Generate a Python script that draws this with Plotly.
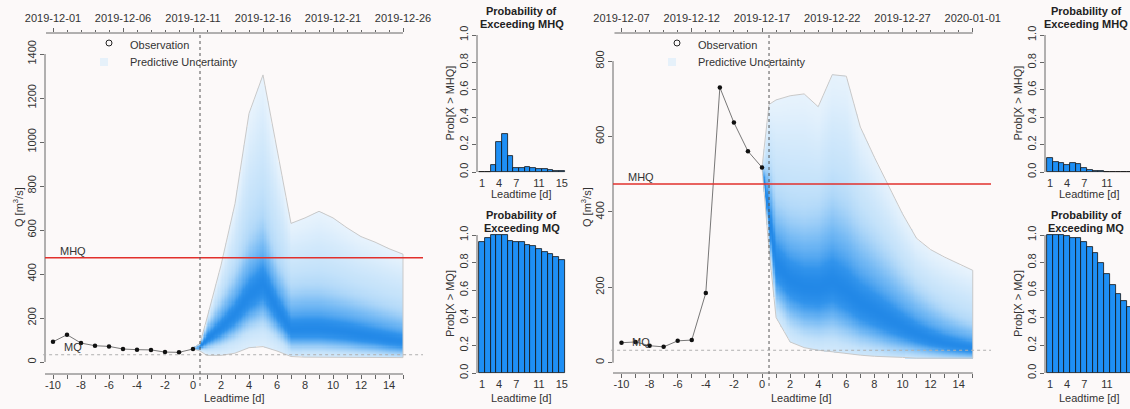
import numpy as np
import plotly.graph_objects as go

W, H = 1130, 409
BG = '#fcf9f9'
FONT = 'Liberation Sans, Arial, sans-serif'
TXT = '#333333'
AXC = '#666666'

# ---------------- data ----------------
MHQ = 474
MQ = 33
LEVELS = [0.0, 0.10, 0.25, 0.50, 0.75, 0.90, 1.0]

# left panel (forecast issued 2019-12-11)
L_obs_lt = [-10, -9, -8, -7, -6, -5, -4, -3, -2, -1, 0]
L_obs_q = [92, 124, 86, 74, 71, 59, 56, 55, 45, 44, 59]
L_fc_lt = [0, 0.5, 1, 2, 3, 4, 5, 6, 7, 8, 9, 10, 11, 12, 13, 14, 15]
L_lo = [60, 50, 30, 30, 40, 65, 70, 50, 25, 22, 22, 22, 22, 22, 21, 20, 20]
L_q10 = [60, 58, 65, 85, 120, 170, 200, 130, 70, 70, 70, 65, 60, 55, 50, 45, 40]
L_q25 = [60, 62, 80, 115, 160, 220, 260, 175, 100, 100, 100, 95, 90, 80, 75, 65, 60]
L_q50 = [60, 67, 100, 150, 210, 290, 350, 235, 140, 140, 140, 135, 125, 115, 105, 95, 85]
L_q75 = [60, 72, 130, 200, 280, 390, 460, 320, 210, 215, 215, 205, 195, 180, 165, 150, 135]
L_q90 = [60, 78, 170, 280, 400, 560, 650, 450, 330, 340, 340, 325, 305, 285, 265, 245, 225]
L_hi = [60, 85, 200, 440, 720, 1130, 1305, 960, 630, 655, 685, 655, 610, 570, 545, 515, 490]
L_dates = ['2019-12-01', '2019-12-06', '2019-12-11', '2019-12-16', '2019-12-21', '2019-12-26']
L_yticks = [0, 200, 400, 600, 800, 1000, 1200, 1400]
L_p_mhq = [0.003, 0.003, 0.05, 0.22, 0.28, 0.12, 0.03, 0.03, 0.035, 0.03, 0.025, 0.02, 0.015, 0.01, 0.01]
L_p_mq = [0.95, 0.98, 1.0, 1.0, 1.0, 0.96, 0.95, 0.95, 0.93, 0.92, 0.90, 0.88, 0.86, 0.84, 0.82]

# right panel (forecast issued 2019-12-17)
R_obs_lt = [-10, -9, -8, -7, -6, -5, -4, -3, -2, -1, 0]
R_obs_q = [53, 55, 45, 42, 58, 60, 185, 730, 637, 561, 518]
R_fc_lt = [0, 0.5, 1, 2, 3, 4, 5, 6, 7, 8, 9, 10, 11, 12, 13, 14, 15]
R_lo = [518, 300, 120, 55, 40, 33, 29, 25, 20, 17, 15, 14, 12, 12, 12, 12, 12]
R_q10 = [518, 330, 165, 110, 90, 85, 90, 78, 65, 55, 45, 38, 32, 27, 23, 20, 18]
R_q25 = [518, 355, 205, 160, 140, 135, 145, 125, 100, 85, 70, 58, 47, 38, 32, 28, 25]
R_q50 = [518, 390, 260, 215, 195, 190, 205, 180, 150, 130, 110, 90, 72, 58, 48, 40, 35]
R_q75 = [518, 440, 330, 290, 275, 275, 300, 275, 235, 205, 175, 145, 118, 98, 82, 70, 60]
R_q90 = [518, 520, 430, 400, 390, 400, 440, 410, 360, 320, 280, 235, 195, 165, 140, 120, 105]
R_hi = [518, 685, 697, 708, 713, 679, 764, 760, 625, 545, 470, 395, 330, 300, 280, 262, 245]
R_dates = ['2019-12-07', '2019-12-12', '2019-12-17', '2019-12-22', '2019-12-27', '2020-01-01']
R_yticks = [0, 200, 400, 600, 800]
R_p_mhq = [0.10, 0.07, 0.065, 0.05, 0.065, 0.06, 0.03, 0.015, 0.008, 0.005, 0.003, 0.003, 0.003, 0.003, 0.003]
R_p_mq = [1.0, 1.0, 1.0, 0.99, 0.98, 0.98, 0.95, 0.91, 0.87, 0.80, 0.72, 0.64, 0.57, 0.52, 0.48]

BAR_LT = list(range(1, 16))
BAR_TICKS = [1, 4, 7, 11, 15]
DATE_TICK_LT = [-10, -5, 0, 5, 10, 15]
LT_TICKS = list(range(-10, 16))
LT_LABELS = list(range(-10, 15, 2))
PROB_TICKS = [0, 0.2, 0.4, 0.6, 0.8, 1.0]

# ---------------- helpers ----------------
def px(x):
    return x / W

def py(y):
    return 1 - y / H

def aid(prefix, n):
    return prefix if n == 1 else '%s%d' % (prefix, n)

fig = go.Figure()
layout = dict(template='none', width=W, height=H, margin=dict(l=0, r=0, t=0, b=0, pad=0), paper_bgcolor=BG,
              plot_bgcolor='rgba(0,0,0,0)', showlegend=False, font=dict(family=FONT, size=11, color=TXT))
shapes = []
annots = []

def ann(x, y, text, size=11, angle=0, bold=False, xanchor='center', color=TXT):
    annots.append(dict(x=px(x), y=py(y), xref='paper', yref='paper', text=('<b>%s</b>' % text) if bold else text,
                       showarrow=False, font=dict(size=size, color=color, family=FONT), textangle=angle,
                       xanchor=xanchor, yanchor='middle'))

COLORSCALE = [[0.0, 'rgb(236,245,253)'], [0.2, 'rgb(196,226,250)'], [0.45, 'rgb(116,185,244)'],
              [0.7, 'rgb(50,148,236)'], [1.0, 'rgb(18,124,226)']]


def density(fc_lt, quants, ystep):
    xg = np.arange(0.05, 15.0, 0.1)
    yg = np.arange(ystep / 2, max(quants[-1]) + ystep, ystep)
    Q = np.array([np.interp(xg, fc_lt, q) for q in quants])
    Z = np.full((len(yg), len(xg)), np.nan)
    for j in range(len(xg)):
        qs = Q[:, j]
        p = np.interp(yg, qs, LEVELS)
        w = 1 - np.abs(2 * p - 1)
        inside = (yg >= qs[0]) & (yg <= qs[-1])
        zf = np.where(inside, w, 0.0)
        m = inside.astype(float)
        sig = max(0.10 * (qs[5] - qs[1]) / ystep, 1.0)
        half = int(3 * sig) + 1
        k = np.exp(-0.5 * (np.arange(-half, half + 1) / sig) ** 2)
        num = np.convolve(zf, k, mode='same')
        den = np.convolve(m, k, mode='same')
        zs = np.divide(num, den, out=np.zeros_like(num), where=den > 0)
        Z[inside, j] = np.round(np.clip(zs[inside], 0, 1) ** 0.85, 3)
    return xg, yg, Z


def main_panel(n, G, obs_lt, obs_q, fc_lt, quants, dates, yticks, ystep):
    xa, xt = aid('x', n), aid('x', n + 1)
    ya = aid('y', n)
    xr = [(G['x0'] - G['lt0']) / G['ppd'], (G['x1'] - G['lt0']) / G['ppd']]
    yr = [(G['v0'] - G['y1']) / G['ppu'], (G['v0'] - G['y0']) / G['ppu']]
    xg, yg, Z = density(fc_lt, quants, ystep)
    fig.add_trace(go.Heatmap(x=xg, y=yg, z=Z, colorscale=COLORSCALE, zmin=0, zmax=1, showscale=False,
                             zsmooth=False, hoverinfo='skip', xaxis=xa, yaxis=ya))
    # envelope
    env_x = list(fc_lt) + list(fc_lt[::-1])
    env_y = list(quants[-1]) + list(quants[0][::-1])
    fig.add_trace(go.Scatter(x=env_x, y=env_y, mode='lines', line=dict(color='#c9c9c9', width=1),
                             hoverinfo='skip', xaxis=xa, yaxis=ya))
    # observations
    fig.add_trace(go.Scatter(x=obs_lt, y=obs_q, mode='lines+markers', line=dict(color='#555555', width=0.8),
                             marker=dict(color='#111111', size=4.5), hoverinfo='skip', xaxis=xa, yaxis=ya))
    fig.add_trace(go.Scatter(x=[0], y=[0], mode='markers', marker=dict(opacity=0), hoverinfo='skip',
                             xaxis=xt, yaxis=ya))
    dom_x = [px(G['x0']), px(G['x1'])]
    dom_y = [py(G['y1']), py(G['y0'])]
    layout[aid('xaxis', n)] = dict(domain=dom_x, range=xr, anchor=ya, automargin=False, showgrid=False,
                                   zeroline=False, showline=False, tickmode='array', tickvals=LT_LABELS,
                                   ticktext=[str(v) for v in LT_LABELS], ticks='outside', ticklen=4,
                                   tickcolor=AXC, ticklabelstandoff=-3, tickfont=dict(size=11, color=TXT),
                                   minor=dict(tickmode='array', tickvals=LT_TICKS, ticks='outside',
                                              ticklen=4, tickcolor=AXC))
    layout[aid('xaxis', n + 1)] = dict(overlaying=xa, side='top', range=xr, anchor=ya, automargin=False,
                                       showgrid=False, zeroline=False, showline=False, tickmode='array',
                                       tickvals=DATE_TICK_LT, ticktext=dates, ticks='outside', ticklen=4,
                                       tickcolor=AXC, ticklabelstandoff=2, tickfont=dict(size=11, color=TXT),
                                       minor=dict(tickmode='array', tickvals=LT_TICKS, ticks='outside',
                                                  ticklen=2, tickcolor=AXC))
    layout[aid('yaxis', n)] = dict(domain=dom_y, range=yr, anchor=xa, automargin=False, showgrid=False,
                                   zeroline=False, showline=False, tickmode='array', tickvals=yticks,
                                   ticks='outside', ticklen=4, tickcolor=AXC, tickangle=-90,
                                   tickfont=dict(size=11, color=TXT))
    # axis lines
    shapes.append(dict(type='line', xref=xa, yref=ya + ' domain', x0=xr[0], x1=15, y0=0, y1=0,
                       line=dict(color=AXC, width=1)))
    shapes.append(dict(type='line', xref=xa, yref=ya + ' domain', x0=-10.5, x1=15, y0=1, y1=1,
                       line=dict(color=AXC, width=1)))
    shapes.append(dict(type='line', xref=xa + ' domain', yref=ya, x0=0, x1=0, y0=yticks[0], y1=yticks[-1],
                       line=dict(color=AXC, width=1)))
    # reference lines
    shapes.append(dict(type='line', xref=xa + ' domain', yref=ya, x0=-0.005, x1=1, y0=MQ, y1=MQ,
                       line=dict(color='#b0b0b0', width=1, dash='dot')))
    shapes.append(dict(type='line', xref=xa + ' domain', yref=ya, x0=0, x1=1, y0=MHQ, y1=MHQ,
                       line=dict(color='#e2302c', width=1.6)))
    shapes.append(dict(type='line', xref=xa, yref='paper', x0=0.5, x1=0.5, y0=py(386), y1=py(G['y0']),
                       line=dict(color='#555555', width=1, dash='dot')))
    # labels
    def xpix(lt):
        return G['lt0'] + G['ppd'] * lt
    def ypix(v):
        return G['v0'] - G['ppu'] * v
    ann(xpix(-8.6), ypix(MHQ) - 7, 'MHQ')
    ann(xpix(-8.6), ypix(MQ) - 8, 'MQ')
    ann((G['x0'] + G['x1']) / 2, 398, 'Leadtime [d]')
    ann(G['x0'] - 27, 207, 'Q [m<sup>3</sup>/s]', angle=-90)
    # legend
    lx = G['x0'] + 64
    shapes.append(dict(type='circle', xref='paper', yref='paper', x0=px(lx - 3), x1=px(lx + 3),
                       y0=py(46), y1=py(40), line=dict(color='#222222', width=1)))
    shapes.append(dict(type='rect', xref='paper', yref='paper', x0=px(lx - 9), x1=px(lx - 1),
                       y0=py(66), y1=py(58), fillcolor='#e6f1fa', line=dict(width=0)))
    ann(lx + 19, 45, 'Observation', xanchor='left')
    ann(lx + 19, 62, 'Predictive Uncertainty', xanchor='left')


def bar_panel(n, S, vals, y0px, y1px, dom_top, dom_bot, label, title2, t1, t2, xl):
    xa, ya = aid('x', n), aid('y', n)
    xr = [1 + (S['x0'] - S['b1']) / S['ppb'], 1 + (S['x1'] - S['b1']) / S['ppb']]
    ppu = (y0px - y1px)
    yr = [(y0px - dom_bot) / ppu, (y0px - dom_top) / ppu]
    fig.add_trace(go.Bar(x=BAR_LT, y=vals, width=1, marker=dict(color='#1e8ff5', line=dict(color='#111111', width=0.8)),
                         hoverinfo='skip', xaxis=xa, yaxis=ya))
    layout[aid('xaxis', n)] = dict(domain=[px(S['x0']), px(S['x1'])], range=xr, anchor=ya, automargin=False,
                                   showgrid=False, zeroline=False, showline=False, tickmode='array',
                                   tickvals=[t for t in BAR_TICKS if t <= xr[1]], ticks='',
                                   tickfont=dict(size=11, color=TXT))
    layout[aid('yaxis', n)] = dict(domain=[py(dom_bot), py(dom_top)], range=yr, anchor=xa, automargin=False,
                                   showgrid=False, zeroline=False, showline=False, tickmode='array',
                                   tickvals=PROB_TICKS, ticktext=['%.1f' % v for v in PROB_TICKS],
                                   ticks='outside', ticklen=4, tickcolor=AXC, tickangle=-90,
                                   tickfont=dict(size=11, color=TXT))
    shapes.append(dict(type='line', xref=xa + ' domain', yref=ya, x0=0, x1=0, y0=0, y1=1,
                       line=dict(color=AXC, width=1)))
    cx = S['b1'] + S['ppb'] * 7
    tx = min(cx, S['x1'] - 44)
    ann(S['x0'] - 27, (y0px + y1px) / 2, label, angle=-90)
    ann(cx, xl, 'Leadtime [d]')
    ann(tx, t1, 'Probability of', bold=True, color='#222222')
    ann(tx, t2, title2, bold=True, color='#222222')


LEFT = dict(x0=45, x1=423, y0=33, y1=374, lt0=193, ppd=14.0, v0=362, ppu=0.22)
RIGHT = dict(x0=613, x1=991, y0=33, y1=373, lt0=762, ppd=14.05, v0=362.7, ppu=0.377)

main_panel(1, LEFT, L_obs_lt, L_obs_q, L_fc_lt, [L_lo, L_q10, L_q25, L_q50, L_q75, L_q90, L_hi], L_dates, L_yticks, 5)
main_panel(5, RIGHT, R_obs_lt, R_obs_q, R_fc_lt, [R_lo, R_q10, R_q25, R_q50, R_q75, R_q90, R_hi], R_dates, R_yticks, 3)

LS = dict(x0=477, x1=566, b1=482, ppb=5.7)
RS = dict(x0=1045, x1=1130, b1=1050, ppb=5.7)
bar_panel(3, LS, L_p_mhq, 172, 35, 33, 175, 'Prob[X &gt; MHQ]', 'Exceeding MHQ', 11, 24, 194)
bar_panel(4, LS, L_p_mq, 373, 235, 233, 376, 'Prob[X &gt; MQ]', 'Exceeding MQ', 215, 228, 398)
bar_panel(7, RS, R_p_mhq, 172, 35, 33, 175, 'Prob[X &gt; MHQ]', 'Exceeding MHQ', 11, 24, 194)
bar_panel(8, RS, R_p_mq, 373, 235, 233, 376, 'Prob[X &gt; MQ]', 'Exceeding MQ', 215, 228, 398)

layout['shapes'] = shapes
layout['annotations'] = annots
layout['bargap'] = 0
fig.update_layout(**layout)
fig.write_html('out.html')
